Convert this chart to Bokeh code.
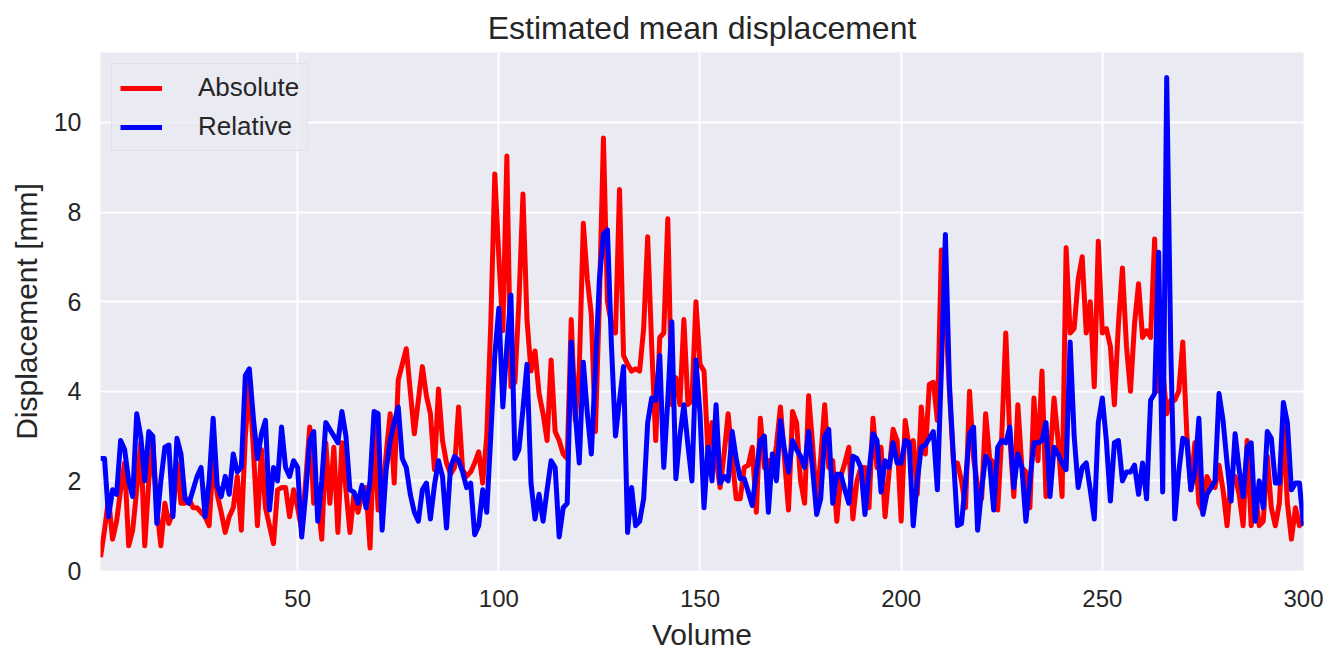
from bokeh.plotting import figure
from bokeh.models import Range1d, FixedTicker
from bokeh.embed import file_html
from bokeh.resources import INLINE

volumes = list(range(1, 301))

absolute = [
    0.3, 0.9, 1.6, 0.7, 1.1, 1.8, 2.4, 0.55, 0.9, 1.8,
    2.85, 0.55, 2.0, 2.85, 1.4, 0.55, 1.5, 1.05, 1.3, 2.4,
    1.5, 1.5, 1.6, 1.4, 1.4, 1.3, 1.2, 1.0, 2.5, 1.7,
    1.3, 0.85, 1.2, 1.4, 2.1, 0.9, 3.0, 4.2, 2.7, 1.0,
    2.7, 1.4, 1.0, 0.6, 1.8, 1.85, 1.85, 1.2, 1.8, 1.4,
    0.9, 2.0, 3.2, 1.5, 1.6, 0.7, 2.85, 1.5, 2.75, 0.85,
    2.85, 1.8, 0.85, 1.7, 1.3, 1.7, 1.85, 0.5, 3.2, 1.35,
    1.6, 2.6, 3.5, 1.95, 4.25, 4.6, 4.95, 4.0, 3.05, 3.8,
    4.55, 3.9, 3.5, 2.25, 4.05, 2.9, 2.4, 2.15, 2.3, 3.65,
    2.25, 2.1, 2.2, 2.4, 2.65, 1.95, 3.0, 5.5, 8.85, 7.0,
    5.35, 9.25, 4.1, 4.2, 6.0, 8.4, 5.6, 4.45, 4.9, 3.95,
    3.5, 2.9, 4.7, 3.1, 2.9, 2.6, 2.5, 5.6, 3.35, 4.5,
    7.75, 6.5, 5.7, 3.1, 6.0, 9.65, 6.0, 5.5, 5.3, 8.5,
    4.8, 4.6, 4.45, 4.5, 4.45, 5.4, 7.45, 5.0, 2.9, 5.2,
    5.3, 7.85, 3.7, 4.3, 3.7, 5.6, 3.7, 3.8, 6.0, 4.6,
    4.45, 2.6, 3.3, 2.5, 1.85, 2.6, 3.5, 2.5, 1.6, 1.6,
    2.3, 2.35, 2.75, 1.3, 3.4, 2.3, 2.45, 2.1, 2.8, 3.65,
    2.5, 1.35, 3.55, 3.3, 2.0, 1.5, 3.9, 2.8, 1.5, 2.5,
    3.7, 2.3, 2.45, 1.1, 2.1, 2.4, 2.75, 1.15, 2.0, 2.3,
    2.3, 1.4, 3.4, 2.3, 2.75, 1.2, 2.2, 3.15, 2.9, 1.1,
    3.35, 2.75, 2.9, 1.7, 3.65, 2.6, 4.15, 4.2, 3.35, 7.15,
    5.85, 4.0, 2.4, 2.4, 2.0, 1.4, 4.0, 2.5, 1.9, 1.6,
    3.5, 2.5, 2.4, 1.35, 3.0, 5.3, 3.0, 1.65, 3.7, 2.3,
    2.2, 1.4, 3.85, 2.45, 4.45, 1.65, 2.5, 3.85, 2.9, 1.65,
    7.2, 5.3, 5.4, 6.5, 7.0, 5.3, 6.0, 4.1, 7.35, 5.3,
    5.4, 5.0, 3.7, 5.5, 6.75, 5.0, 4.0, 5.5, 6.4, 5.2,
    5.35, 5.2, 7.4, 4.0, 4.5, 3.5, 3.8, 3.8, 4.0, 5.1,
    3.05, 1.8, 2.85, 1.5, 1.3, 2.1, 1.9, 1.85, 2.35, 1.8,
    1.0, 2.1, 2.1, 1.7, 1.0, 2.9, 1.0, 1.8, 1.0, 1.1,
    2.55, 1.4, 1.0, 1.5, 3.2, 1.5, 0.7, 1.4, 1.0, 1.1,
]

relative = [
    2.5, 2.5, 1.2, 1.8, 1.7, 2.9, 2.7, 2.0, 1.65, 3.5,
    3.0, 2.0, 3.1, 3.0, 1.05, 2.0, 2.75, 2.8, 1.2, 2.95,
    2.6, 1.6, 1.5, 1.8, 2.1, 2.3, 1.2, 2.0, 3.4, 1.9,
    1.65, 2.1, 1.7, 2.6, 2.2, 2.3, 4.35, 4.5, 3.4, 2.5,
    3.05, 3.35, 1.35, 2.3, 2.0, 3.2, 2.3, 2.1, 2.45, 2.3,
    0.75, 1.7, 2.9, 3.1, 1.1, 2.0, 3.3, 3.15, 3.0, 2.85,
    3.55, 3.0, 1.8, 1.75, 1.5, 1.9, 1.4, 2.0, 3.55, 3.5,
    0.9, 2.25, 2.9, 3.3, 3.65, 2.5, 2.3, 1.7, 1.3, 1.1,
    1.8, 1.95, 1.15, 1.9, 2.45, 2.1, 0.95, 2.3, 2.55, 2.45,
    2.2, 1.85, 1.95, 0.8, 1.0, 1.8, 1.3, 3.0, 4.8, 5.85,
    3.65, 5.0, 6.15, 2.5, 2.7, 3.6, 4.6, 1.95, 1.15, 1.7,
    1.1, 1.8, 2.45, 2.3, 0.75, 1.4, 1.5, 5.1, 3.5, 2.4,
    4.65, 3.5, 2.6, 4.5, 6.5, 7.5, 7.6, 5.0, 3.0, 3.8,
    4.55, 0.85, 1.85, 1.0, 1.1, 1.6, 3.3, 3.85, 3.8, 4.8,
    2.3, 3.8, 5.55, 2.05, 3.0, 3.7, 2.8, 2.0, 4.7, 3.5,
    1.4, 2.75, 2.0, 3.7, 1.95, 2.1, 2.0, 3.1, 2.5, 2.05,
    2.05, 1.75, 1.45, 2.2, 2.9, 3.0, 1.3, 2.6, 2.0, 3.35,
    2.7, 2.2, 2.9, 2.7, 2.55, 2.3, 3.1, 2.25, 1.25, 1.6,
    3.0, 3.15, 1.5, 2.15, 2.15, 1.8, 1.5, 2.55, 2.5, 2.3,
    1.25, 2.2, 3.05, 2.9, 1.75, 2.45, 2.3, 2.85, 2.4, 2.4,
    2.9, 2.85, 1.0, 2.0, 2.75, 2.8, 2.95, 3.1, 1.8, 4.5,
    7.5, 4.15, 2.5, 1.0, 1.05, 2.0, 3.05, 3.2, 0.9, 1.8,
    2.55, 2.4, 1.35, 2.75, 2.9, 2.85, 3.2, 1.85, 2.6, 2.3,
    1.1, 2.0, 2.85, 2.85, 2.9, 3.3, 1.65, 2.75, 2.6, 2.4,
    2.25, 5.1, 3.0, 1.85, 2.3, 2.4, 1.8, 1.15, 3.3, 3.85,
    2.9, 1.55, 2.85, 2.9, 2.0, 2.2, 2.2, 2.35, 1.7, 2.4,
    1.6, 3.8, 3.95, 7.1, 1.75, 11.0, 5.0, 1.15, 2.2, 2.95,
    2.9, 1.8, 2.2, 3.4, 1.25, 1.7, 1.85, 2.0, 3.95, 3.35,
    2.4, 1.55, 3.05, 2.25, 1.65, 2.75, 2.85, 1.1, 2.0, 1.4,
    3.1, 2.95, 1.95, 1.95, 3.75, 3.3, 1.8, 1.95, 1.95, 1.0,
]

x_ticks = [50, 100, 150, 200, 250, 300]
y_ticks = [0, 2, 4, 6, 8, 10]

FONT = "Liberation Sans"
TXT = "#262626"

p = figure(width=1328, height=653,
           x_range=Range1d(1, 300), y_range=Range1d(0, 11.56),
           output_backend="svg", toolbar_location=None,
           min_border_left=100, min_border_right=25,
           min_border_top=52, min_border_bottom=82,
           background_fill_color="#EAEAF2",
           title="Estimated mean displacement")

p.outline_line_color = None
p.title.align = "center"
p.title.text_font = FONT
p.title.text_font_size = "32px"
p.title.text_font_style = "normal"
p.title.text_color = TXT
p.title.standoff = 13

for ax in (p.xaxis[0], p.yaxis[0]):
    ax.axis_line_color = None
    ax.major_tick_line_color = None
    ax.minor_tick_line_color = None
    ax.major_tick_out = 0
    ax.major_tick_in = 0
    ax.minor_tick_out = 0
    ax.minor_tick_in = 0
    ax.major_label_text_font = FONT
    ax.major_label_text_color = TXT
    ax.axis_label_text_font = FONT
    ax.axis_label_text_font_size = "30px"
    ax.axis_label_text_font_style = "normal"
    ax.axis_label_text_color = TXT

p.xaxis.major_label_text_font_size = "24px"
p.yaxis.major_label_text_font_size = "25px"
p.xaxis.major_label_standoff = 19
p.yaxis.major_label_standoff = 19
p.xaxis.ticker = FixedTicker(ticks=x_ticks)
p.yaxis.ticker = FixedTicker(ticks=y_ticks)
p.xaxis.axis_label = "Volume"
p.yaxis.axis_label = "Displacement [mm]"
p.xaxis.axis_label_standoff = 8
p.yaxis.axis_label_standoff = 8

p.xgrid.grid_line_color = "white"
p.ygrid.grid_line_color = "white"
p.xgrid.grid_line_width = 2
p.ygrid.grid_line_width = 2

p.line(volumes, absolute, line_color="#FF0000", line_width=5,
       line_join="round", legend_label="Absolute")
p.line(volumes, relative, line_color="#0000FF", line_width=5,
       line_join="round", legend_label="Relative")

lg = p.legend[0]
lg.location = "top_left"
lg.margin = 11
lg.padding = 8
lg.spacing = 8
lg.glyph_width = 42
lg.glyph_height = 30
lg.label_height = 30
lg.label_standoff = 36
lg.label_text_font = FONT
lg.label_text_font_size = "26px"
lg.label_text_color = TXT
lg.background_fill_color = "#EAEAF2"
lg.background_fill_alpha = 0.8
lg.border_line_color = "#D6D6DE"
lg.border_line_width = 1

open("out.html", "w").write(file_html(p, INLINE))
